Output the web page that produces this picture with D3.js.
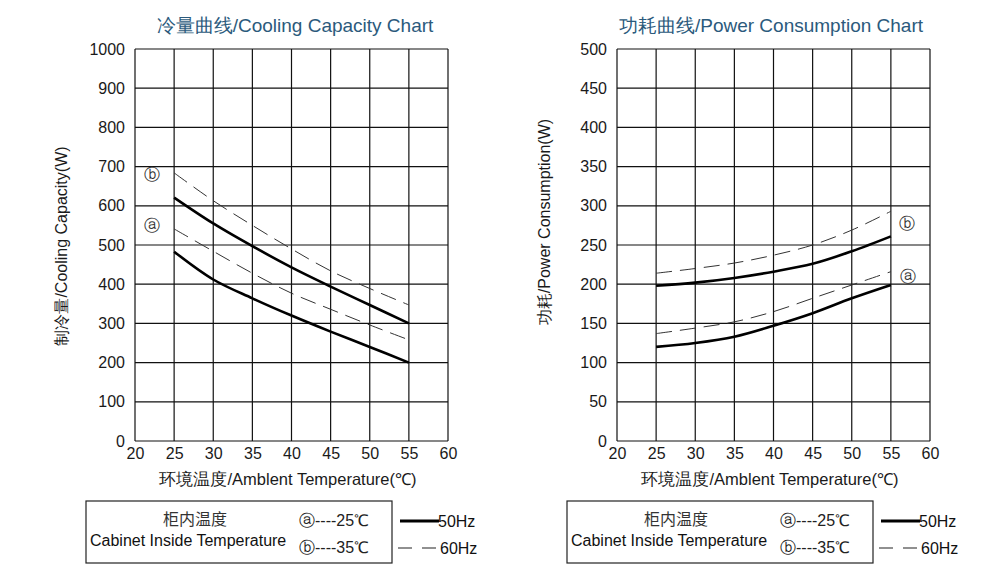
<!DOCTYPE html>
<html><head><meta charset="utf-8">
<script src="https://cdn.jsdelivr.net/npm/d3@7"></script>
<style>body{margin:0;background:#fff}svg{display:block}</style>
</head><body>
<svg id="c" width="1000" height="565"></svg>
<script>
const temps = [25,30,35,40,45,50,55];
const xTicks = [20,25,30,35,40,45,50,55,60];
// Cooling capacity (W)
const cool50a = [483,412,364,320,279,240,200];
const cool50b = [621,555,497,443,394,347,300];
const cool60a = [541,484,428,377,336,296,258];
const cool60b = [684,613,550,490,434,389,347];
const coolTicks = [0,100,200,300,400,500,600,700,800,900,1000];
// Power consumption (W)
const pow50a = [120,125,133,147,163,182,199];
const pow50b = [198,202,208,216,226,242,261];
const pow60a = [137,144,152,165,182,199,216];
const pow60b = [214,220,227,237,250,269,293];
const powTicks = [0,50,100,150,200,250,300,350,400,450,500];

const svg = d3.select('#c');
const FONT = '"Liberation Sans", Arial, sans-serif';

function chart(o){
  const g = svg.append('g');
  const x = d3.scaleLinear().domain([20,60]).range([o.x0, o.x1]);
  const y = d3.scaleLinear().domain([0, o.ymax]).range([441, 49]);
  // grid
  g.selectAll('.vg').data(xTicks).join('line')
    .attr('x1', d=>x(d)).attr('x2', d=>x(d)).attr('y1', y(0)).attr('y2', y(o.ymax))
    .attr('stroke','#111').attr('stroke-width',1.2);
  g.selectAll('.hg').data(o.ticks).join('line')
    .attr('x1', x(20)).attr('x2', x(60)).attr('y1', d=>y(d)).attr('y2', d=>y(d))
    .attr('stroke','#111').attr('stroke-width',1.2);
  // axes (labels only)
  const ya = d3.axisLeft(y).tickValues(o.ticks).tickSize(0).tickPadding(10).tickFormat(d3.format('d'));
  const yg = g.append('g').attr('transform',`translate(${x(20)},0)`).call(ya);
  yg.select('.domain').remove();
  yg.selectAll('text').attr('font-family',FONT).attr('font-size',16).attr('fill','#1a1a1a');
  const xa = d3.axisBottom(x).tickValues(xTicks).tickSize(0).tickPadding(7);
  const xg = g.append('g').attr('transform',`translate(0,${y(0)})`).call(xa);
  xg.select('.domain').remove();
  xg.selectAll('text').attr('font-family',FONT).attr('font-size',16).attr('fill','#1a1a1a');
  // curves
  const line = d3.line().x((d,i)=>x(temps[i])).y(d=>y(d)).curve(d3.curveCatmullRom.alpha(0.5));
  o.solid.forEach(s=>g.append('path').attr('d',line(s)).attr('fill','none')
    .attr('stroke','#000').attr('stroke-width',2.6));
  o.dashed.forEach(s=>g.append('path').attr('d',line(s)).attr('fill','none')
    .attr('stroke','#333').attr('stroke-width',1).attr('stroke-dasharray','16,8'));
  // markers
  o.marks.forEach(m=>g.append('text').attr('x',x(m[0])).attr('y',y(m[1]))
    .attr('text-anchor','middle').attr('dominant-baseline','central')
    .attr('font-family','"DejaVu Sans", sans-serif').attr('font-size',16).attr('fill','#333').text(m[2]));
  // titles
  g.append('text').attr('x',o.tx).attr('y',32).attr('text-anchor','middle')
    .attr('font-family',FONT).attr('font-size',19).attr('fill','#2b5a7c').text(o.title);
  g.append('text').attr('x',o.xlx).attr('y',485).attr('text-anchor','middle')
    .attr('font-family',FONT).attr('font-size',16.5).attr('fill','#1a1a1a').text('环境温度/Amblent Temperature(℃)');
  g.append('text').attr('transform',`translate(${o.ylx},${o.yly}) rotate(-90)`).attr('text-anchor','middle')
    .attr('font-family',FONT).attr('font-size',16).attr('fill','#1a1a1a').text(o.ytitle);
  // legend
  const lx = o.lx;
  g.append('rect').attr('x',lx).attr('y',501).attr('width',306).attr('height',62)
    .attr('fill','none').attr('stroke','#222').attr('stroke-width',1.2);
  g.append('text').attr('x',lx+109).attr('y',525).attr('text-anchor','middle')
    .attr('font-family','"Noto Sans CJK SC", sans-serif').attr('font-size',16).attr('fill','#333').text('柜内温度');
  g.append('text').attr('x',lx+4).attr('y',546)
    .attr('font-family',FONT).attr('font-size',16).attr('fill','#111').text('Cabinet Inside Temperature');
  g.append('text').attr('x',lx+213).attr('y',526)
    .attr('font-family',FONT).attr('font-size',16).attr('fill','#222').text('ⓐ----25℃');
  g.append('text').attr('x',lx+213).attr('y',553)
    .attr('font-family',FONT).attr('font-size',16).attr('fill','#222').text('ⓑ----35℃');
  g.append('line').attr('x1',lx+314).attr('x2',lx+353).attr('y1',521).attr('y2',521)
    .attr('stroke','#000').attr('stroke-width',3);
  g.append('text').attr('x',lx+352).attr('y',527)
    .attr('font-family',FONT).attr('font-size',16).attr('fill','#111').text('50Hz');
  g.append('line').attr('x1',lx+312).attr('x2',lx+352).attr('y1',548).attr('y2',548)
    .attr('stroke','#222').attr('stroke-width',1.2).attr('stroke-dasharray','14,10');
  g.append('text').attr('x',lx+354).attr('y',554)
    .attr('font-family',FONT).attr('font-size',16).attr('fill','#111').text('60Hz');
}

chart({x0:135,x1:448,ymax:1000,ticks:coolTicks,
  solid:[cool50a,cool50b],dashed:[cool60a,cool60b],
  marks:[[22.2,550,'ⓐ'],[22.2,680,'ⓑ']],
  title:'冷量曲线/Cooling Capacity Chart',tx:295,xlx:288,
  ytitle:'制冷量/Cooling  Capacity(W)',ylx:67,yly:246,lx:86});
chart({x0:617,x1:930,ymax:500,ticks:powTicks,
  solid:[pow50a,pow50b],dashed:[pow60a,pow60b],
  marks:[[57.2,210,'ⓐ'],[57.0,277,'ⓑ']],
  title:'功耗曲线/Power Consumption Chart',tx:771,xlx:770,
  ytitle:'功耗/Power Consumption(W)',ylx:550,yly:222,lx:567});
</script>
</body></html>
